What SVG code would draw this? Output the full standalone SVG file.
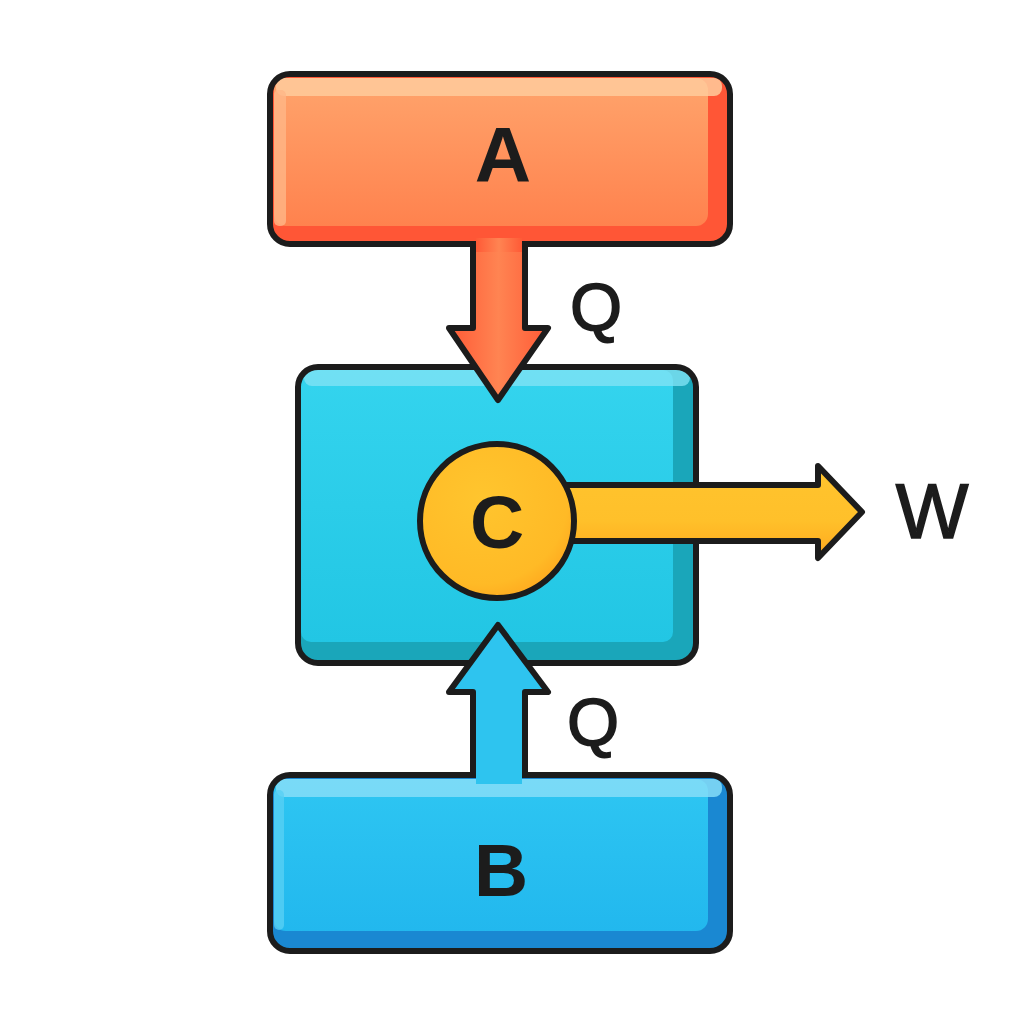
<svg xmlns="http://www.w3.org/2000/svg" width="1024" height="1024" viewBox="0 0 1024 1024">
<defs>
<linearGradient id="gA" x1="0" y1="0" x2="0" y2="1"><stop offset="0" stop-color="#FFA46C"/><stop offset="1" stop-color="#FF824E"/></linearGradient>
<linearGradient id="gC" x1="0" y1="0" x2="0" y2="1"><stop offset="0" stop-color="#34D4EE"/><stop offset="1" stop-color="#22C6E4"/></linearGradient>
<linearGradient id="gB" x1="0" y1="0" x2="0" y2="1"><stop offset="0" stop-color="#2EC6F2"/><stop offset="1" stop-color="#22B8EE"/></linearGradient>
<linearGradient id="gDown" x1="0" y1="0" x2="1" y2="0"><stop offset="0" stop-color="#FF5A36"/><stop offset="0.5" stop-color="#FF8452"/><stop offset="1" stop-color="#FF5A36"/></linearGradient>
<linearGradient id="gY" x1="0" y1="0" x2="0" y2="1"><stop offset="0" stop-color="#FFC42E"/><stop offset="0.6" stop-color="#FFC02A"/><stop offset="1" stop-color="#FFA81E"/></linearGradient>
<radialGradient id="gCirc" cx="0.4" cy="0.35" r="0.7"><stop offset="0" stop-color="#FFC52E"/><stop offset="0.8" stop-color="#FFBA26"/><stop offset="1" stop-color="#FFA81E"/></radialGradient>
</defs>
<style>
.ol{stroke:#1c1c1c;stroke-width:6;stroke-linejoin:round}
.lbl{font-family:"Liberation Sans",Arial,sans-serif;fill:#1c1c1c;text-anchor:middle}
.b{font-weight:bold}
.th{stroke:#1c1c1c;stroke-width:1.6}
</style>

<g id="nodeC">
<rect x="298" y="367" width="398" height="296" rx="20" fill="#1AA6BA"/>
<rect x="301" y="370" width="372" height="272" rx="10" fill="url(#gC)"/>
<rect x="304" y="370" width="386" height="16" rx="8" fill="#7FE2F4" opacity="0.8"/>
<rect x="298" y="367" width="398" height="296" rx="20" fill="none" class="ol"/>
</g>

<g id="nodeA">
<rect x="270" y="74" width="460" height="170" rx="20" fill="#FF5636"/>
<rect x="274" y="78" width="434" height="148" rx="12" fill="url(#gA)"/>
<rect x="276" y="78" width="446" height="18" rx="8" fill="#FFCB9C" opacity="0.85"/>
<rect x="274" y="90" width="12" height="136" rx="5" fill="#FFB787" opacity="0.8"/>
<rect x="270" y="74" width="460" height="170" rx="20" fill="none" class="ol"/>
<text class="lbl b" x="503" y="182" font-size="78">A</text>
</g>

<g id="nodeB">
<rect x="270" y="775" width="460" height="176" rx="20" fill="#1A88D2"/>
<rect x="274" y="779" width="434" height="152" rx="12" fill="url(#gB)"/>
<rect x="276" y="779" width="446" height="18" rx="8" fill="#86DDF8" opacity="0.85"/>
<rect x="274" y="790" width="10" height="140" rx="5" fill="#58CFF4" opacity="0.8"/>
<rect x="270" y="775" width="460" height="176" rx="20" fill="none" class="ol"/>
<text class="lbl b" x="501" y="896" font-size="75">B</text>
</g>

<g id="connectors">
<path d="M555,485 L818,485 L818,466 L862,512 L818,558 L818,541 L555,541" fill="url(#gY)" class="ol"/>
<path d="M473,244 L473,328 L449,328 L498,400 L548,328 L525,328 L525,244" fill="url(#gDown)" class="ol"/>
<rect x="476" y="238" width="46" height="14" fill="url(#gDown)"/>
<path d="M473,776 L473,692 L449,692 L498,625 L548,692 L525,692 L525,776" fill="#2EC4EF" class="ol"/>
<rect x="476" y="768" width="46" height="16" fill="#2EC4EF"/>
</g>

<g id="nodeCcircle">
<circle cx="497" cy="521" r="77" fill="url(#gCirc)" class="ol"/>
<text class="lbl b" x="497" y="548" font-size="75">C</text>
</g>

<g id="labels">
<text class="lbl th" x="596" y="330" font-size="67">Q</text>
<text class="lbl th" x="593" y="745" font-size="67">Q</text>
<text class="lbl th" x="932" y="538" font-size="77">W</text>
</g>
</svg>
